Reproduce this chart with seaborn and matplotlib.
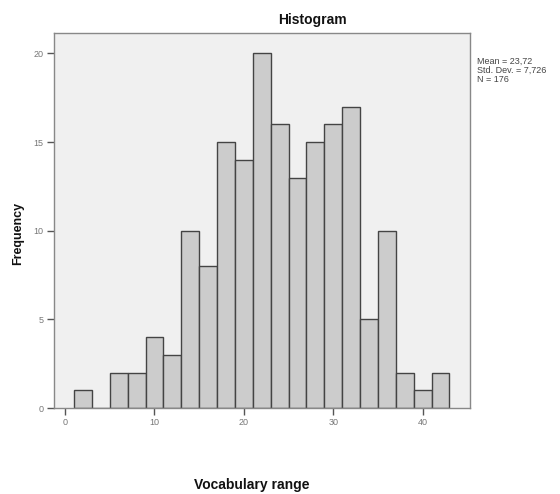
import matplotlib
matplotlib.use("Agg")
import matplotlib.pyplot as plt
import seaborn as sns
import numpy as np

bin_edges = [1, 3, 5, 7, 9, 11, 13, 15, 17, 19, 21, 23, 25, 27, 29, 31, 33, 35, 37, 39, 41, 43]
counts = [1, 0, 2, 2, 4, 3, 10, 8, 15, 14, 20, 16, 13, 15, 16, 17, 5, 10, 2, 1, 2]
x_ticks = [0, 10, 20, 30, 40]
y_ticks = [0, 5, 10, 15, 20]
stats_lines = ["Mean = 23,72", "Std. Dev. = 7,726", "N = 176"]

centers = [(bin_edges[i] + bin_edges[i + 1]) / 2 for i in range(len(counts))]

sns.set_style("white")
plt.rcParams['font.family'] = ['Liberation Sans', 'DejaVu Sans']

fig = plt.figure(figsize=(5.6, 4.94), dpi=100)
ax = fig.add_axes([53.5 / 560, 1 - 408 / 494, (470 - 53.5) / 560, (408 - 33) / 494])
ax.set_facecolor("#f0f0f0")

sns.histplot(x=centers, weights=counts, bins=bin_edges, ax=ax,
             color="#cccccc", alpha=1.0, edgecolor="#444444", linewidth=1.0)

ax.set_xlim(-1.3, 45.3)
ax.set_ylim(0, 21.15)
ax.set_xticks(x_ticks)
ax.set_yticks(y_ticks)
ax.tick_params(axis='both', direction='out', length=5, width=1, color="#555555",
               labelsize=6.5, labelcolor="#777777", pad=2)
ax.tick_params(axis='x', bottom=True)
ax.tick_params(axis='y', left=True)
for s in ax.spines.values():
    s.set_visible(True)
    s.set_color("#888888")
    s.set_linewidth(1.0)

ax.set_xlabel("")
ax.set_ylabel("")
fig.text(252 / 560, 1 - 485 / 494, "Vocabulary range", ha="center", va="center",
         fontsize=10, fontweight="bold", color="#111111")
fig.text(18 / 560, 1 - 233 / 494, "Frequency", ha="center", va="center",
         rotation=90, fontsize=9, fontweight="bold", color="#111111")
fig.text(312 / 560, 1 - 20 / 494, "Histogram", ha="center", va="center",
         fontsize=10, fontweight="bold", color="#111111")
for i, line in enumerate(stats_lines):
    fig.text(477 / 560, 1 - (61 + i * 9) / 494, line, ha="left", va="center",
             fontsize=6.5, color="#444444")

fig.savefig("out.png", dpi=100, facecolor="white")
